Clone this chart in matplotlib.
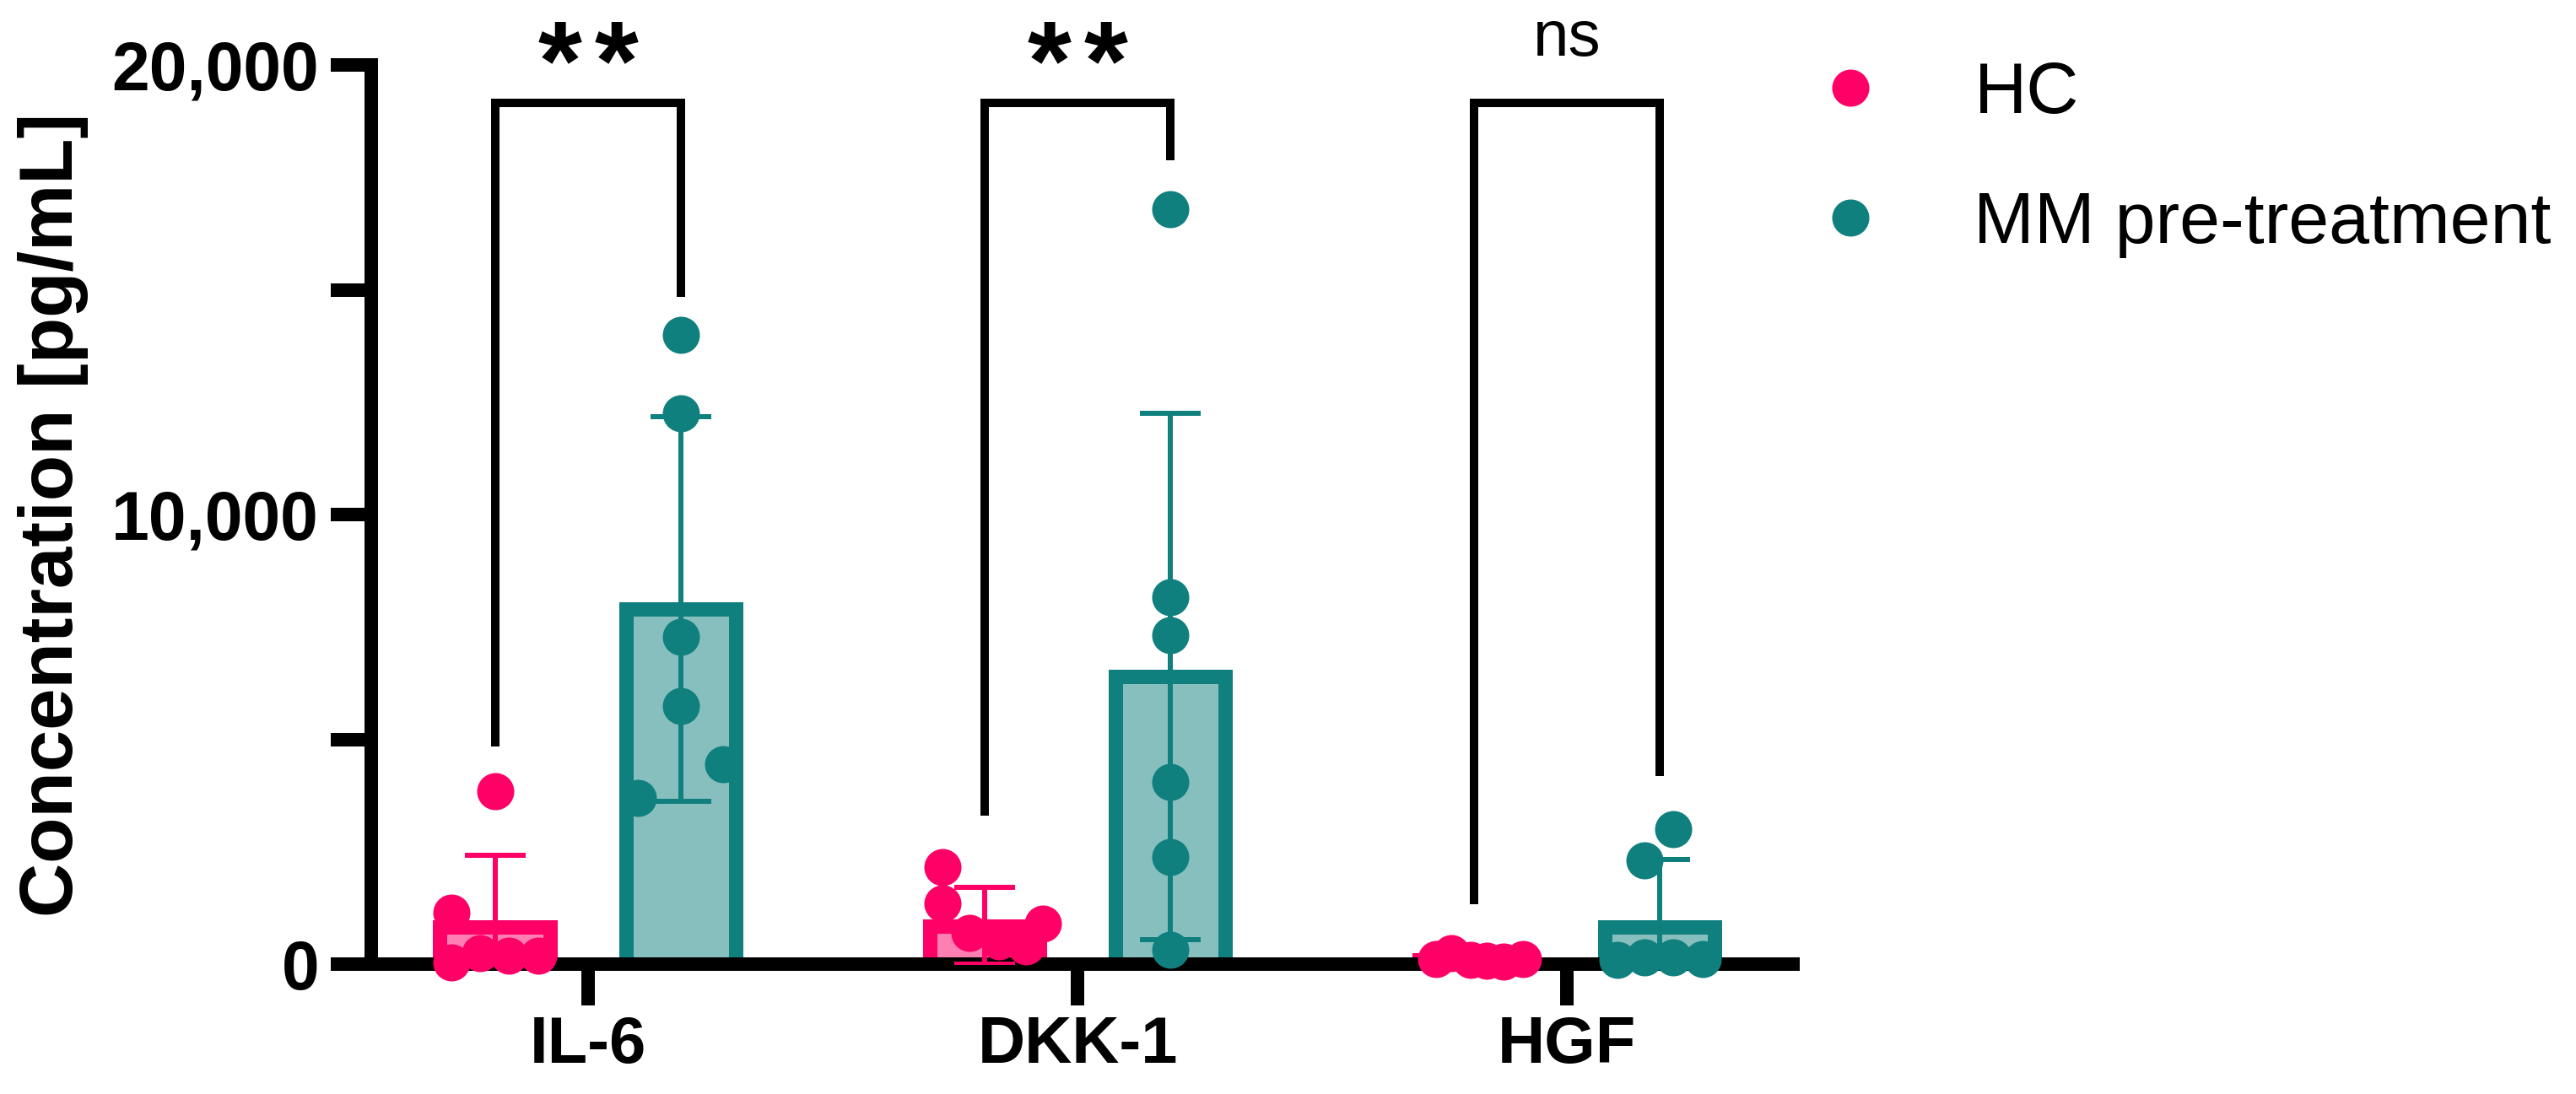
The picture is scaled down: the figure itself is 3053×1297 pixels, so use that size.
import matplotlib
matplotlib.use("Agg")
import matplotlib.pyplot as plt
from matplotlib.lines import Line2D
import numpy as np

# ---------------- data ----------------
categories = ["IL-6", "DKK-1", "HGF"]
groups = ["HC", "MM pre-treatment"]

hc_mean = [820, 850, 90]
hc_sd = [1600, 850, 60]
mm_mean = [7900, 6400, 820]
mm_sd = [4270, 5850, 1500]

hc_points = [
    [3850, 1150, 30, 250, 190, 190],
    [2150, 1350, 700, 500, 400, 900],
    [120, 250, 100, 80, 60, 110],
]
mm_points = [
    [14000, 12250, 7280, 5750, 4440, 3700],
    [16800, 8160, 7310, 4060, 2390, 320],
    [3000, 2300, 100, 150, 150, 120],
]
# horizontal spread of the dots inside each bar (fraction of category spacing)
hc_spread = [
    [0.0, -0.089, -0.089, -0.031, 0.028, 0.088],
    [-0.085, -0.085, -0.03, 0.03, 0.085, 0.12],
    [-0.078, -0.046, -0.006, 0.027, 0.06, 0.1],
]
mm_spread = [
    [0.0, 0.0, 0.0, 0.0, 0.086, -0.089],
    [0.0, 0.0, 0.0, 0.0, 0.0, 0.0],
    [0.028, -0.032, -0.086, -0.032, 0.028, 0.088],
]

sig_labels = ["**", "**", "ns"]
bracket_left = [4930, 3400, 1430]
bracket_right = [14930, 17970, 4280]
bracket_top = 19150

yticks_major = [0, 10000, 20000]
yticks_minor = [5000, 15000]

# ---------------- style ----------------
pink = "#FF0066"
teal = "#10807E"
W, H, DPI = 3053, 1297, 100
PX = 72.0 / DPI  # points per pixel

fig = plt.figure(figsize=(W / DPI, H / DPI), dpi=DPI)
ax = fig.add_axes([440 / W, 1 - 1143 / H, (2125 - 440) / W, (1143 - 77) / H])

x = np.arange(len(categories))
off = 0.19
bw = 0.225
edge_lw = 17 * PX

for i in range(len(categories)):
    for xc, mean, sd, pts, spr, col in [
        (x[i] - off, hc_mean[i], hc_sd[i], hc_points[i], hc_spread[i], pink),
        (x[i] + off, mm_mean[i], mm_sd[i], mm_points[i], mm_spread[i], teal),
    ]:
        rgba = matplotlib.colors.to_rgba(col)
        ax.bar(xc, mean, width=bw, facecolor=(rgba[0], rgba[1], rgba[2], 0.5),
               edgecolor=col, linewidth=edge_lw, zorder=1)
        ax.errorbar([xc], [mean], yerr=[sd], fmt="none", ecolor=col,
                    elinewidth=6 * PX, capsize=36 * PX, capthick=6 * PX, zorder=3)
        ax.plot(xc + np.array(spr), pts, "o", color=col, markersize=44 * PX,
                markeredgewidth=0, linestyle="none", zorder=4, clip_on=False)

# brackets
br_lw = 10 * PX
star_dx = 33.5 / 580.0
for i in range(len(categories)):
    xl, xr = x[i] - off, x[i] + off
    ax.plot([xl, xl, xr, xr], [bracket_left[i], bracket_top, bracket_top, bracket_right[i]],
            color="black", linewidth=br_lw, solid_joinstyle="miter", clip_on=False, zorder=2)
    if sig_labels[i] == "ns":
        ax.text(x[i], bracket_top + 750, "ns", ha="center", va="bottom",
                fontsize=55, family="Liberation Sans", clip_on=False)
    else:
        for k, ch in enumerate(sig_labels[i]):
            ax.text(x[i] + (k - 0.5) * 2 * star_dx, bracket_top + 100, ch, ha="center",
                    va="baseline", fontsize=96, fontweight="bold",
                    family="Liberation Sans", clip_on=False)

# axes styling
ax.set_xlim(-0.443, 2.462)
ax.set_ylim(0, 20000)
for s in ["top", "right"]:
    ax.spines[s].set_visible(False)
for s in ["left", "bottom"]:
    ax.spines[s].set_linewidth(16 * PX)
    ax.spines[s].set_zorder(2.5)

ax.set_yticks(yticks_major)
ax.set_yticklabels([f"{v:,}" for v in yticks_major])
ax.set_yticks(yticks_minor, minor=True)
ax.tick_params(axis="y", which="both", length=48 * PX, width=16 * PX, pad=10)
ax.set_xticks(x)
ax.set_xticklabels(categories)
ax.tick_params(axis="x", length=49 * PX, width=16 * PX, pad=8)
for lab in ax.get_yticklabels():
    lab.set_fontsize(58)
    lab.set_fontweight("bold")
    lab.set_family("Liberation Sans")
for lab in ax.get_xticklabels():
    lab.set_fontsize(56)
    lab.set_fontweight("bold")
    lab.set_family("Liberation Sans")

ax.set_ylabel("Concentration [pg/mL]", fontsize=64, fontweight="bold", family="Liberation Sans")
ax.yaxis.set_label_coords(-0.199, 0.5)

handles = [Line2D([], [], marker="o", color=c, linestyle="none", markersize=44 * PX,
                  markeredgewidth=0) for c in (pink, teal)]
leg = ax.legend(handles, groups, loc="upper left",
                bbox_to_anchor=(2150 / W, 1 - 72 / H), bbox_transform=fig.transFigure,
                frameon=False, prop={"family": "Liberation Sans", "size": 62},
                handlelength=1.0, handletextpad=1.2, labelspacing=0.86, borderpad=0,
                borderaxespad=0)

fig.savefig("out.png", dpi=DPI)
